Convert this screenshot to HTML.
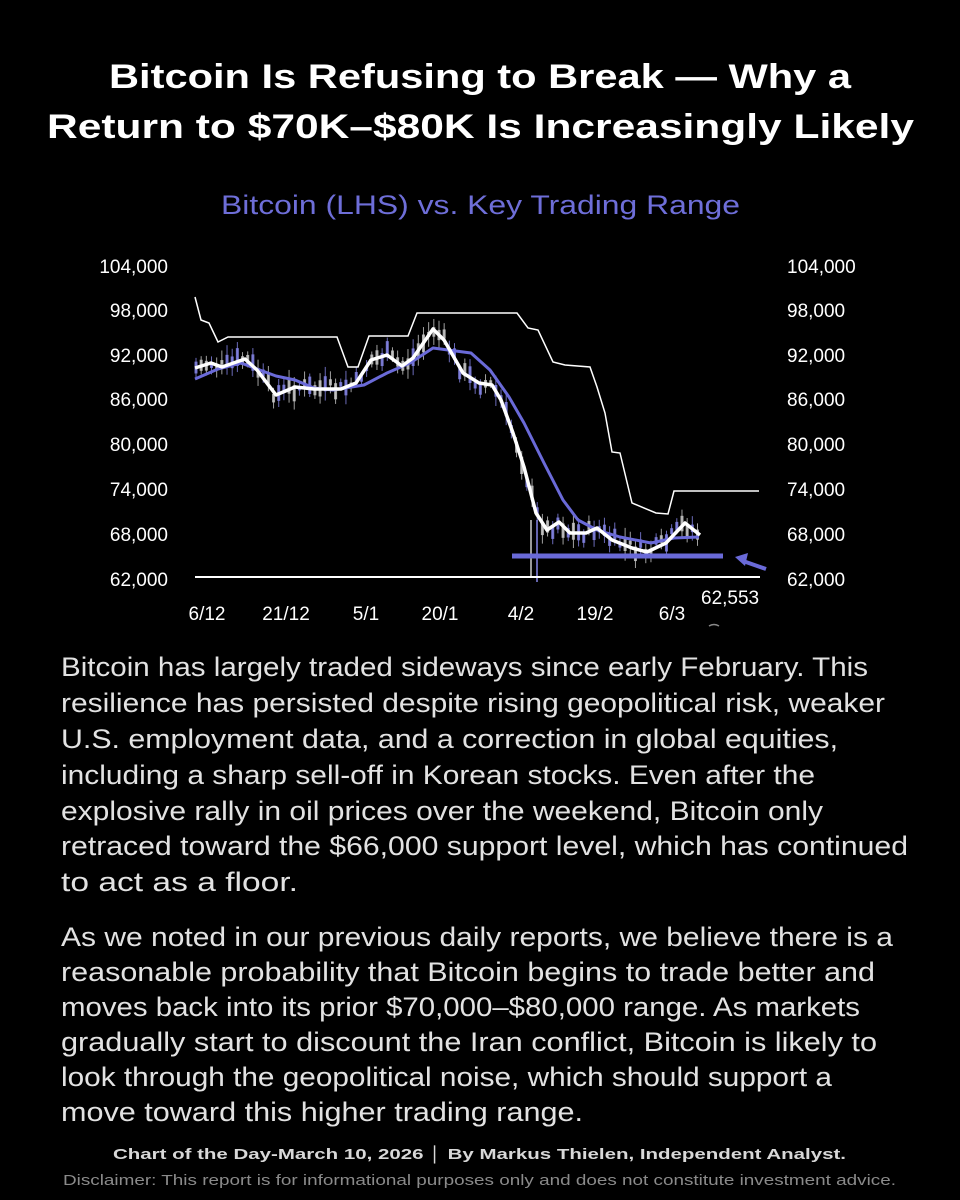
<!DOCTYPE html>
<html><head><meta charset="utf-8"><style>
html,body{margin:0;padding:0;background:#000;}
svg{display:block;}
text{font-family:"Liberation Sans",sans-serif;}
</style></head><body>
<svg id="s" width="960" height="1200" viewBox="0 0 960 1200" xmlns="http://www.w3.org/2000/svg">
<rect width="960" height="1200" fill="#000"/>
<g font-weight="bold" fill="#fff" font-size="34">
<text x="109" y="88" textLength="742" lengthAdjust="spacingAndGlyphs">Bitcoin Is Refusing to Break — Why a</text>
<text x="47" y="138" textLength="867" lengthAdjust="spacingAndGlyphs">Return to $70K–$80K Is Increasingly Likely</text>
</g>
<text x="221" y="214" font-size="27" fill="#6e6ed8" textLength="519" lengthAdjust="spacingAndGlyphs">Bitcoin (LHS) vs. Key Trading Range</text>
<g font-size="19" fill="#fff">
<g text-anchor="end">
<text x="168" y="273">104,000</text><text x="168" y="317">98,000</text><text x="168" y="362">92,000</text><text x="168" y="406">86,000</text><text x="168" y="451">80,000</text><text x="168" y="496">74,000</text><text x="168" y="541">68,000</text><text x="168" y="586">62,000</text>
</g>
<g text-anchor="start">
<text x="787" y="273">104,000</text><text x="787" y="317">98,000</text><text x="787" y="362">92,000</text><text x="787" y="406">86,000</text><text x="787" y="451">80,000</text><text x="787" y="496">74,000</text><text x="787" y="541">68,000</text><text x="787" y="586">62,000</text>
</g>
<g text-anchor="middle">
<text x="207" y="620">6/12</text><text x="286" y="620">21/12</text><text x="366" y="620">5/1</text><text x="440" y="620">20/1</text><text x="521" y="620">4/2</text><text x="595" y="620">19/2</text><text x="672" y="620">6/3</text>
</g>
<text x="701" y="604">62,553</text>
</g>
<path d="M709 626 q5 -3 10 0" stroke="#888" stroke-width="1.5" fill="none"/>
<g id="candles"></g>
<line x1="195" y1="577" x2="760" y2="577" stroke="#fff" stroke-width="2"/>
<polyline fill="none" stroke="#fff" stroke-width="1.5" points="195,297 201,320 209,323 218,342 228,337 337,337 348,367 358,367 369,336 408,336 417,313 517,313 528,328 538,330 553,362 565,365 590,367 597,387 605,413 612,452 620,453 632,503 656,513 668,514 674,491 759,491"/>
<polyline id="blue" fill="none" stroke="#6a6ad8" stroke-width="3" stroke-linejoin="round" points="195,379 218,369 241,363 257,369 276,376 295,380 314,388 333,390 364,385 387,373 410,363 433,348 448,350 471,353 490,370 509,397 524,423 544,463 563,500 578,520 597,530 620,537 651,543 674,538 699,537"/>
<polyline id="white" fill="none" stroke="#fff" stroke-width="3.5" stroke-linejoin="round" points="195,368 211,363 222,367 245,359 257,370 276,395 295,387 314,389 341,389 356,383 371,360 387,355 402,366 413,358 433,329 444,340 463,373 479,383 492,385 501,400 513,433 524,467 536,513 547,530 559,522 570,533 586,533 597,528 612,540 632,548 647,552 666,543 685,523 700,535"/>
<line x1="512" y1="556" x2="723" y2="556" stroke="#6a6ad8" stroke-width="5"/>
<line x1="766" y1="569" x2="743" y2="561" stroke="#6a6ad8" stroke-width="4"/>
<polygon points="735,557 748,553 745,566" fill="#6a6ad8"/>
<g font-size="27" fill="#e2e2e2">
<text x="61" y="676" textLength="807" lengthAdjust="spacingAndGlyphs">Bitcoin has largely traded sideways since early February. This</text>
<text x="61" y="712" textLength="824" lengthAdjust="spacingAndGlyphs">resilience has persisted despite rising geopolitical risk, weaker</text>
<text x="61" y="748" textLength="777" lengthAdjust="spacingAndGlyphs">U.S. employment data, and a correction in global equities,</text>
<text x="61" y="784" textLength="754" lengthAdjust="spacingAndGlyphs">including a sharp sell-off in Korean stocks. Even after the</text>
<text x="61" y="820" textLength="762" lengthAdjust="spacingAndGlyphs">explosive rally in oil prices over the weekend, Bitcoin only</text>
<text x="61" y="855" textLength="847" lengthAdjust="spacingAndGlyphs">retraced toward the $66,000 support level, which has continued</text>
<text x="61" y="891" textLength="237" lengthAdjust="spacingAndGlyphs">to act as a floor.</text>
<text x="61" y="946" textLength="832" lengthAdjust="spacingAndGlyphs">As we noted in our previous daily reports, we believe there is a</text>
<text x="61" y="981" textLength="814" lengthAdjust="spacingAndGlyphs">reasonable probability that Bitcoin begins to trade better and</text>
<text x="61" y="1016" textLength="799" lengthAdjust="spacingAndGlyphs">moves back into its prior $70,000–$80,000 range. As markets</text>
<text x="61" y="1051" textLength="816" lengthAdjust="spacingAndGlyphs">gradually start to discount the Iran conflict, Bitcoin is likely to</text>
<text x="61" y="1086" textLength="771" lengthAdjust="spacingAndGlyphs">look through the geopolitical noise, which should support a</text>
<text x="61" y="1121" textLength="522" lengthAdjust="spacingAndGlyphs">move toward this higher trading range.</text>
</g>
<text x="113" y="1159" font-size="15" font-weight="bold" fill="#d8d8d8" textLength="733" lengthAdjust="spacingAndGlyphs">Chart of the Day-March 10, 2026  │  By Markus Thielen, Independent Analyst.</text>
<text x="63" y="1185" font-size="15" fill="#8a8a8a" textLength="833" lengthAdjust="spacingAndGlyphs">Disclaimer: This report is for informational purposes only and does not constitute investment advice.</text>
</svg>
<script>
(function(){
var pts=document.getElementById('white').getAttribute('points').trim().split(/\s+/).map(function(p){return p.split(',').map(Number);});
function yat(x){for(var i=1;i<pts.length;i++){if(x<=pts[i][0]){var a=pts[i-1],b=pts[i];return a[1]+(b[1]-a[1])*(x-a[0])/(b[0]-a[0]);}}return pts[pts.length-1][1];}
var seed=7;function r(){seed=(seed*9301+49297)%233280;return seed/233280;}
var g=document.getElementById('candles'),ns='http://www.w3.org/2000/svg',h='';
for(var x=196;x<=700;x+=5.17){
 var y=yat(x)+(r()-0.5)*14;var bh=4+r()*14;var wt=bh+r()*14;
 var c=r()<0.45?'#8585e6':'#c8c8c8';
 h+='<line x1="'+x+'" x2="'+x+'" y1="'+(y-wt/2-3)+'" y2="'+(y+wt/2+3)+'" stroke="'+c+'" stroke-width="1" opacity="0.8"/>';
 h+='<rect x="'+(x-1.5)+'" y="'+(y-bh/2)+'" width="3" height="'+bh+'" fill="'+c+'" opacity="0.85"/>';
}
h+='<line x1="531" x2="531" y1="520" y2="578" stroke="#ccc" stroke-width="1.5"/><line x1="537" x2="537" y1="520" y2="582" stroke="#8585e6" stroke-width="1.5"/>';
g.innerHTML=h;
})();
</script>
</body></html>
